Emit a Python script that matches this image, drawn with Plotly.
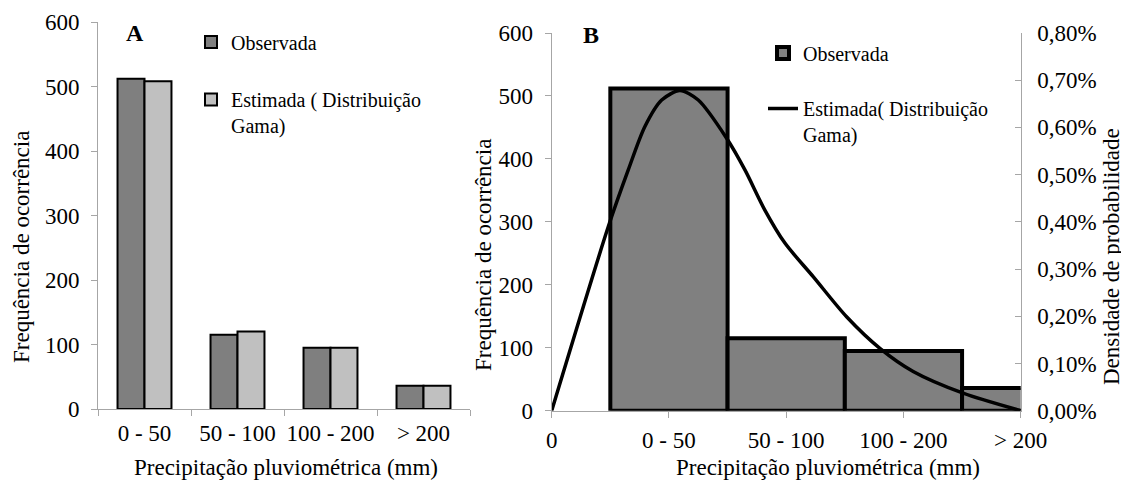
import plotly.graph_objects as go

# ---------------- data ----------------
categories = ["0 - 50", "50 - 100", "100 - 200", "> 200"]
observada = [512, 115, 95, 36]
estimada = [508, 120, 95, 36]

# panel B: histogram positions on a numeric axis (0 = origin, 1..4 = classes)
b_positions = [1, 2, 3, 4]
b_tickvals = [0, 1, 2, 3, 4]
b_ticktext = ["0", "0 - 50", "50 - 100", "100 - 200", "> 200"]

# gamma density curve (x in class units, y in fraction)
curve_x = [0, 0.483, 0.653, 0.795, 0.938, 1.094, 1.25, 1.492, 1.648, 1.818,
           1.989, 2.230, 2.515, 2.799, 3.083, 3.509, 4.0]
curve_y_pct = [0, 0.390, 0.510, 0.602, 0.658, 0.678, 0.658, 0.577, 0.510, 0.425,
               0.355, 0.284, 0.199, 0.132, 0.083, 0.037, 0.0]
curve_y = [v / 100 for v in curve_y_pct]

FONT = "Liberation Serif"
AX = "#a6a6a6"
OFF = 8                 # page body margin of the written html
W, H = 1129 - OFF, 481 - OFF
TS = 23   # tick / title font size
LS = 20   # legend font size

def px_x(p):
    """page pixel -> paper fraction"""
    return (p - OFF) / W

def px_y(p):
    return (H - (p - OFF)) / H

fig = go.Figure()

# Panel A
fig.add_trace(go.Bar(x=categories, y=observada, name="Observada",
                     marker=dict(color="#7f7f7f", line=dict(color="black", width=2)),
                     xaxis="x", yaxis="y", legend="legend"))
fig.add_trace(go.Bar(x=categories, y=estimada, name="Estimada ( Distribuição<br>Gama)",
                     marker=dict(color="#c0c0c0", line=dict(color="black", width=2)),
                     xaxis="x", yaxis="y", legend="legend2"))

# Panel B
fig.add_trace(go.Bar(x=b_positions, y=observada, width=1, name="Observada",
                     marker=dict(color="#808080", line=dict(color="black", width=4)),
                     xaxis="x2", yaxis="y2", legend="legend3", cliponaxis=True))
fig.add_trace(go.Scatter(x=curve_x, y=curve_y, mode="lines",
                         name="Estimada( Distribuição<br>Gama)",
                         line=dict(color="black", width=3.5, shape="spline", smoothing=0.8),
                         xaxis="x2", yaxis="y3", legend="legend4"))

common_axis = dict(showline=True, linecolor=AX, linewidth=1, ticks="outside",
                   tickcolor=AX, ticklen=6, showgrid=False, zeroline=False,
                   automargin=False,
                   tickfont=dict(family=FONT, size=TS, color="black"))

legend_common = dict(bgcolor="rgba(0,0,0,0)", borderwidth=0,
                     font=dict(family=FONT, size=LS, color="black"),
                     valign="top", itemwidth=30)

def ann(text, x, y, size=TS, angle=0):
    return dict(text=text, x=px_x(x), y=px_y(y), xref="paper", yref="paper",
                xanchor="center", yanchor="middle", showarrow=False,
                textangle=angle, font=dict(family=FONT, size=size, color="black"))

fig.update_layout(
    width=W, height=H,
    margin=dict(l=0, r=0, t=0, b=0, pad=0, autoexpand=False),
    paper_bgcolor="white", plot_bgcolor="white",
    font=dict(family=FONT, color="black"),
    separators=",.",
    bargap=0.42, bargroupgap=0,
    barmode="group",
    showlegend=True,
    xaxis=dict(domain=[px_x(98), px_x(470)], anchor="y", type="category",
               range=[-0.5, 3.5], tickson="boundaries", tickangle=0,
               ticklabelstandoff=3, **common_axis),
    yaxis=dict(domain=[px_y(409), px_y(22)], anchor="x", range=[0, 600],
               dtick=100, ticklabelstandoff=7, **common_axis),
    xaxis2=dict(domain=[px_x(551.7), px_x(1020.7)], anchor="y2", range=[0, 4],
                tickvals=b_tickvals, ticktext=b_ticktext, tickangle=0,
                ticklabelstandoff=3, **common_axis),
    yaxis2=dict(domain=[px_y(410.7), px_y(33)], anchor="x2", range=[0, 600],
                dtick=100, ticklabelstandoff=7, **common_axis),
    yaxis3=dict(overlaying="y2", anchor="x2", side="right", range=[0, 0.008],
                dtick=0.001, tickformat=".2%", showline=True, linecolor=AX,
                linewidth=1, ticks="inside", tickcolor=AX, ticklen=6,
                ticklabelstandoff=11, showgrid=False, zeroline=False, automargin=False,
                tickfont=dict(family=FONT, size=TS, color="black")),
    legend=dict(x=px_x(191), y=px_y(42), xanchor="left", yanchor="middle", **legend_common),
    legend2=dict(x=px_x(191), y=px_y(80), xanchor="left", yanchor="top", **legend_common),
    legend3=dict(x=px_x(763), y=px_y(53), xanchor="left", yanchor="middle", **legend_common),
    legend4=dict(x=px_x(763), y=px_y(89), xanchor="left", yanchor="top", **legend_common),
    annotations=[
        ann("<b>A</b>", 135, 33, size=24),
        ann("<b>B</b>", 591, 35, size=24),
        ann("Frequência de ocorrência", 22, 247, angle=-90),
        ann("Precipitação pluviométrica (mm)", 286, 467),
        ann("Frequência de ocorrência", 484, 255, angle=-90),
        ann("Densidade de probabilidade", 1112, 257, angle=-90),
        ann("Precipitação pluviométrica (mm)", 828, 467),
    ],
)

fig.write_html("out.html")
